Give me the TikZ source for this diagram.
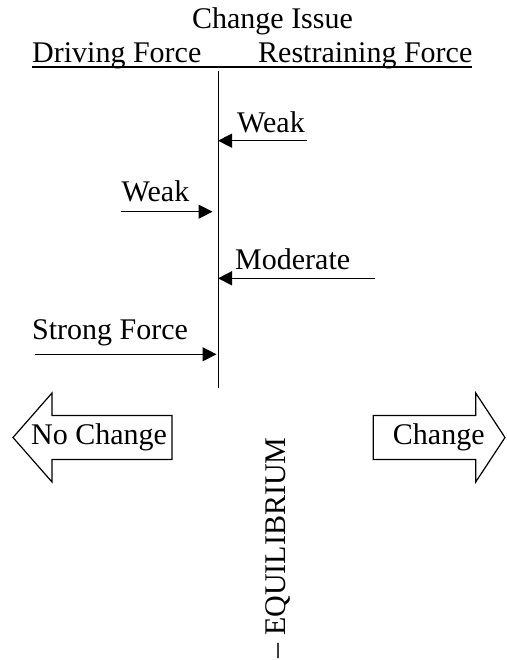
\documentclass[tikz,border=0pt]{standalone}
\usepackage{fontspec}
\setmainfont{Liberation Serif}
\usetikzlibrary{arrows.meta}
\tikzset{
  lbl/.style={inner sep=0pt, anchor=base west, font=\fontsize{30}{36}\selectfont},
  force/.style={line width=1.4pt, -{Triangle[length=14pt,width=14pt]}},
  bigarrow/.style={draw, line width=1.2pt, fill=white},
}
\begin{document}
\begin{tikzpicture}[x=1pt,y=1pt]
\useasboundingbox (0,0) rectangle (506,660);
% titles
\node[lbl, anchor=base] (issue) at (272.5,631) {Change Issue};
\node[lbl] (driving) at (32,597) {Driving Force};
\node[lbl] (restr) at (258,597) {Restraining Force};
\coordinate (ulL) at (32,593);
\coordinate (ulR) at (472,593);
\draw[line width=2pt] (ulL) -- (ulR);
% central line
\coordinate (vtop) at (218.5,589);
\coordinate (vbot) at (218.5,272);
\draw[line width=1.3pt] (vtop) -- (vbot);
% restraining forces
\node[lbl] (w1) at (237,527.3) {Weak};
\coordinate (w1s) at (307,519.3);
\coordinate (w1t) at (218,519.3);
\draw[force] (w1s) -- (w1t);
\node[lbl] (mod) at (235,390) {Moderate};
\coordinate (mods) at (375,381.7);
\coordinate (modt) at (218,381.7);
\draw[force] (mods) -- (modt);
% driving forces
\node[lbl] (w2) at (121.5,458.3) {Weak};
\coordinate (w2s) at (120.7,448.3);
\coordinate (w2t) at (212.5,448.3);
\draw[force] (w2s) -- (w2t);
\node[lbl] (strong) at (32,320) {Strong Force};
\coordinate (sts) at (35,305.7);
\coordinate (stt) at (216.5,305.7);
\draw[force] (sts) -- (stt);
% big arrows
\draw[bigarrow] (13,222.5) -- (52,267) -- (52,244.5) -- (172,244.5) -- (172,200.5)
  -- (52,200.5) -- (52,178) -- cycle;
\node[lbl, anchor=base] (nochange) at (99,215) {No Change};
\draw[bigarrow] (505,222.5) -- (475.7,267) -- (475.7,244.5) -- (373.3,244.5) -- (373.3,200.5)
  -- (475.7,200.5) -- (475.7,178) -- cycle;
\node[lbl, anchor=base] (change) at (438.8,215) {Change};
% equilibrium
\node[lbl, rotate=90] (equil) at (285,1.5) {– EQUILIBRIUM};
\end{tikzpicture}
\end{document}
